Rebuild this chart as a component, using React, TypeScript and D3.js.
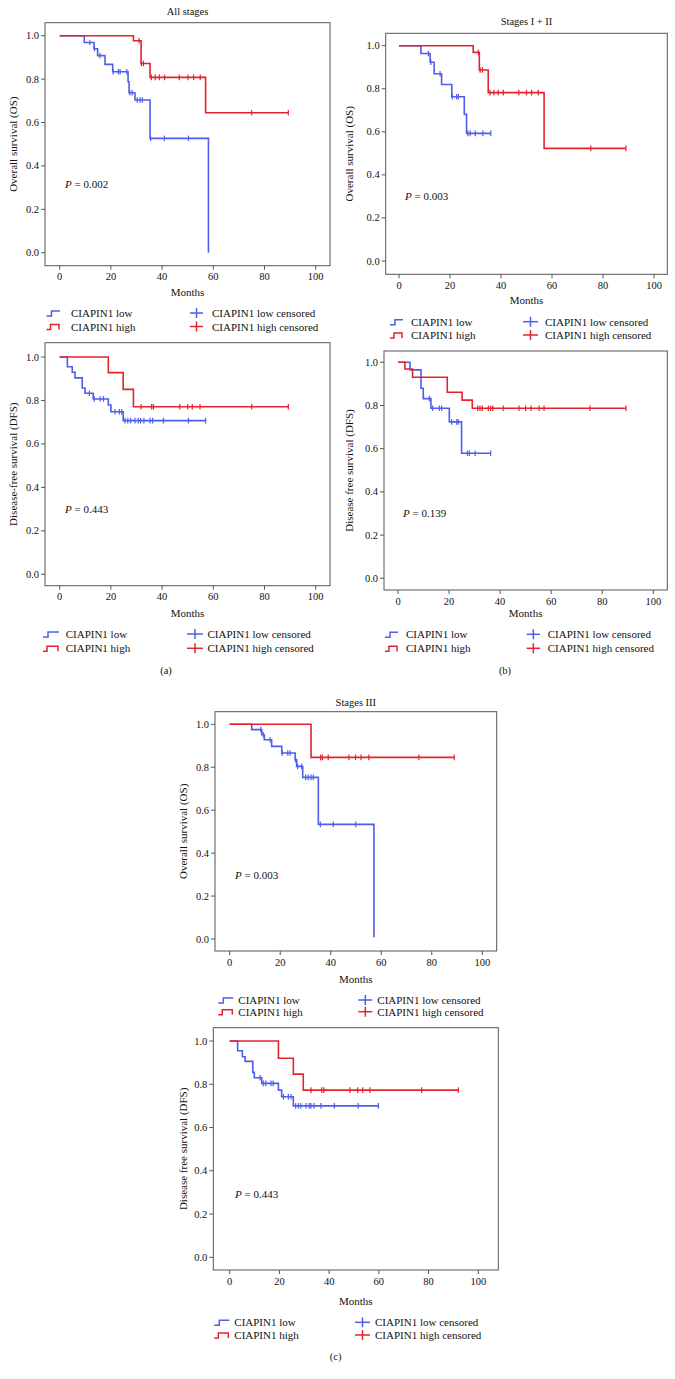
import React from "react"
import * as d3 from "d3"

const BLUE = "#4d5fe8"
const RED = "#e4232d"
const FRAME = "#555"
const FONT = "'Liberation Serif', 'Times New Roman', serif"

const X_TICKS = [0, 20, 40, 60, 80, 100]
const Y_TICKS = [0, 0.2, 0.4, 0.6, 0.8, 1.0]

// (a) all stages, overall survival
const aOsLowT = [9.6, 13.4, 14.8, 17.7, 20.7, 26.7, 27.1, 29.4, 35.3, 58.1]
const aOsLowS = [0.969, 0.94, 0.908, 0.868, 0.834, 0.788, 0.737, 0.704, 0.527, 0]
const aOsLowC = [11.8, 13.6, 15.7, 20.9, 22.9, 23.6, 26.2, 27.4, 28.3, 30.3, 31.4, 32.3, 35.5, 40.9, 50.3]
const aOsHighT = [28.8, 31.8, 35.3, 57.0]
const aOsHighS = [0.977, 0.872, 0.808, 0.645]
const aOsHighC = [31.0, 31.9, 32.7, 35.8, 37.3, 38.9, 41.0, 46.7, 50.1, 52.3, 54.9, 75.0, 89.3]

// (a) all stages, disease-free survival
const aDfsLowT = [3.0, 4.9, 6.0, 8.8, 9.9, 13.1, 19.0, 20.0, 24.8]
const aDfsLowS = [0.955, 0.93, 0.904, 0.857, 0.833, 0.807, 0.779, 0.748, 0.707]
const aDfsLowC = [11.6, 13.5, 15.8, 17.1, 21.6, 23.3, 24.2, 25.5, 26.6, 27.7, 29.4, 30.7, 31.6, 32.9, 35.3, 36.3, 40.5, 50.3, 57.0]
const aDfsHighT = [19.0, 24.8, 28.8]
const aDfsHighS = [0.928, 0.851, 0.771]
const aDfsHighC = [31.8, 35.9, 36.6, 46.9, 50.0, 51.8, 54.8, 75.0, 89.3]

// (b) stages I + II, overall survival
const bOsLowT = [8.6, 12.2, 13.8, 16.7, 20.7, 25.6, 26.5]
const bOsLowS = [0.964, 0.923, 0.87, 0.82, 0.763, 0.681, 0.593]
const bOsLowC = [11.5, 12.5, 16.1, 20.9, 22.6, 23.3, 27.0, 27.9, 29.9, 32.9, 36.0]
const bOsHighT = [29.1, 31.5, 35.0, 56.9]
const bOsHighS = [0.969, 0.887, 0.782, 0.523]
const bOsHighC = [31.1, 31.8, 32.7, 35.7, 37.2, 38.9, 40.9, 47.0, 50.0, 52.0, 54.6, 75.2, 89.0]

// (b) stages I + II, disease free survival
const bDfsLowT = [4.7, 9.0, 9.9, 12.9, 20.1, 24.9]
const bDfsLowS = [0.965, 0.88, 0.832, 0.787, 0.724, 0.579]
const bDfsLowC = [12.3, 13.6, 16.2, 17.1, 21.0, 23.0, 23.6, 27.2, 28.0, 30.2, 36.3]
const bDfsHighT = [2.7, 5.7, 19.3, 25.1, 29.1]
const bDfsHighS = [0.969, 0.931, 0.861, 0.825, 0.787]
const bDfsHighC = [31.2, 32.1, 33.0, 35.4, 36.3, 37.1, 41.2, 47.4, 50.0, 52.1, 55.3, 57.2, 75.2, 89.3]

// (c) stage III, overall survival
const cOsLowT = [8.7, 12.7, 13.7, 16.6, 20.6, 25.9, 26.5, 28.9, 35.1, 57.1]
const cOsLowS = [0.975, 0.951, 0.928, 0.897, 0.866, 0.835, 0.804, 0.753, 0.534, 0.008]
const cOsLowC = [12.3, 13.3, 16.0, 20.8, 23.0, 23.9, 26.1, 26.9, 28.5, 30.1, 31.1, 32.2, 33.1, 35.9, 41.0, 49.9]
const cOsHighT = [32.2]
const cOsHighS = [0.846]
const cOsHighC = [36.0, 36.7, 39.0, 47.2, 49.8, 52.0, 55.1, 74.9, 88.9]

// (c) stage III, disease free survival
const cDfsLowT = [3.2, 5.1, 6.2, 9.3, 9.9, 12.9, 19.6, 20.9, 25.6]
const cDfsLowS = [0.955, 0.927, 0.906, 0.855, 0.83, 0.804, 0.773, 0.742, 0.7]
const cDfsLowC = [12.2, 13.5, 14.5, 16.6, 17.5, 21.6, 23.6, 24.7, 26.5, 27.6, 28.6, 30.7, 32.0, 32.7, 33.9, 36.7, 42.1, 51.7, 59.8]
const cDfsHighT = [19.6, 25.6, 29.6]
const cDfsHighS = [0.92, 0.847, 0.773]
const cDfsHighC = [32.7, 37.0, 37.9, 48.4, 51.5, 53.5, 56.4, 77.2, 92.0]

type Series = { t: number[]; s: number[]; c: number[] }

type PanelCfg = {
    frame: [number, number, number, number]
    x0: number
    x100: number
    yZero: number
    yOne: number
    title?: string
    titleY?: number
    yLabel: string
    yLabelX: number
    pValue: string
    pX: number
    pY: number
    monthsY: number
    legY: [number, number]
    leg: [number, number, number, number, number, number]
    low: Series
    high: Series
}

const PANELS: PanelCfg[] = [
    {
        frame: [45, 22.7, 330, 265.7], x0: 59.7, x100: 315.7, yZero: 252.7, yOne: 35.7,
        title: "All stages", titleY: 11.7,
        yLabel: "Overall survival (OS)", yLabelX: 13.3,
        pValue: "0.002", pX: 65, pY: 184, monthsY: 292,
        legY: [313, 326.5], leg: [46.5, 60, 71, 190, 203, 212],
        low: { t: aOsLowT, s: aOsLowS, c: aOsLowC },
        high: { t: aOsHighT, s: aOsHighS, c: aOsHighC },
    },
    {
        frame: [385.7, 33.3, 667.3, 274.3], x0: 399, x100: 654, yZero: 261, yOne: 45.7,
        title: "Stages I + II", titleY: 21.7,
        yLabel: "Overall survival (OS)", yLabelX: 349,
        pValue: "0.003", pX: 405, pY: 196, monthsY: 300,
        legY: [321.7, 335], leg: [390, 403, 411, 523, 538, 545],
        low: { t: bOsLowT, s: bOsLowS, c: bOsLowC },
        high: { t: bOsHighT, s: bOsHighS, c: bOsHighC },
    },
    {
        frame: [45, 342.7, 330, 585.7], x0: 59.7, x100: 315.7, yZero: 574.3, yOne: 357,
        yLabel: "Disease-free survival (DFS)", yLabelX: 13.3,
        pValue: "0.443", pX: 65, pY: 509, monthsY: 612.7,
        legY: [634, 648.3], leg: [43, 59, 65.7, 187, 203, 207.5],
        low: { t: aDfsLowT, s: aDfsLowS, c: aDfsLowC },
        high: { t: aDfsHighT, s: aDfsHighS, c: aDfsHighC },
    },
    {
        frame: [384, 351, 667.3, 590], x0: 398, x100: 653.3, yZero: 578.3, yOne: 362.3,
        yLabel: "Disease free survival (DFS)", yLabelX: 349,
        pValue: "0.139", pX: 403, pY: 512.7, monthsY: 612.7,
        legY: [634.3, 648.3], leg: [385, 398, 406, 526.7, 540, 547.7],
        low: { t: bDfsLowT, s: bDfsLowS, c: bDfsLowC },
        high: { t: bDfsHighT, s: bDfsHighS, c: bDfsHighC },
    },
    {
        frame: [215, 711.7, 496.7, 951], x0: 229.7, x100: 482.3, yZero: 939, yOne: 724.3,
        title: "Stages III", titleY: 702.7,
        yLabel: "Overall survival (OS)", yLabelX: 183.3,
        pValue: "0.003", pX: 235, pY: 875, monthsY: 979,
        legY: [1000, 1011.7], leg: [218.3, 233.3, 238.3, 358.3, 372.3, 377.3],
        low: { t: cOsLowT, s: cOsLowS, c: cOsLowC },
        high: { t: cOsHighT, s: cOsHighS, c: cOsHighC },
    },
    {
        frame: [213.3, 1027.7, 498.3, 1270], x0: 229.7, x100: 478.3, yZero: 1257.3, yOne: 1041,
        yLabel: "Disease free survival (DFS)", yLabelX: 182.7,
        pValue: "0.443", pX: 235, pY: 1194, monthsY: 1301,
        legY: [1322.3, 1335], leg: [214.3, 229.3, 234.3, 355, 370, 375],
        low: { t: cDfsLowT, s: cDfsLowS, c: cDfsLowC },
        high: { t: cDfsHighT, s: cDfsHighS, c: cDfsHighC },
    },
]

const stepAt = (ser: Series, time: number) => {
    let v = 1
    ser.t.forEach((t, i) => {
        if (t <= time) v = ser.s[i]
    })
    return v
}

const Curve = ({ ser, color, x, y }: { ser: Series; color: string; x: d3.ScaleLinear<number, number>; y: d3.ScaleLinear<number, number> }) => {
    const end = Math.max(ser.t[ser.t.length - 1], ser.c.length ? ser.c[ser.c.length - 1] : 0)
    const pts: [number, number][] = [[0, 1]]
    ser.t.forEach((t, i) => pts.push([t, ser.s[i]]))
    if (end > ser.t[ser.t.length - 1]) pts.push([end, ser.s[ser.s.length - 1]])
    const line = d3
        .line<[number, number]>()
        .x((d) => x(d[0]))
        .y((d) => y(d[1]))
        .curve(d3.curveStepAfter)
    return (
        <g>
            <path d={line(pts) || ""} fill="none" stroke={color} strokeWidth={1.6} />
            {ser.c.map((c, i) => {
                const cy = y(stepAt(ser, c))
                return <line key={i} x1={x(c)} x2={x(c)} y1={cy - 2.8} y2={cy + 2.8} stroke={color} strokeWidth={1.2} />
            })}
        </g>
    )
}

const Panel = ({ p }: { p: PanelCfg }) => {
    const [l, t, r, b] = p.frame
    const x = d3.scaleLinear().domain([0, 100]).range([p.x0, p.x100])
    const y = d3.scaleLinear().domain([0, 1]).range([p.yZero, p.yOne])
    const cx = (l + r) / 2
    const cy = (t + b) / 2
    const [s1a, s1b, t1, s2a, s2b, t2] = p.leg
    const [ly1, ly2] = p.legY
    return (
        <g fontFamily={FONT} fill="#111">
            {p.title && (
                <text x={cx} y={p.titleY} textAnchor="middle" dominantBaseline="central" fontSize={10.5}>
                    {p.title}
                </text>
            )}
            <rect x={l} y={t} width={r - l} height={b - t} fill="none" stroke={FRAME} strokeWidth={1} />
            {Y_TICKS.map((v) => (
                <g key={v}>
                    <line x1={l - 4} x2={l} y1={y(v)} y2={y(v)} stroke={FRAME} />
                    <text x={l - 6} y={y(v)} textAnchor="end" dominantBaseline="central" fontSize={10.5}>
                        {v.toFixed(1)}
                    </text>
                </g>
            ))}
            {X_TICKS.map((v) => (
                <g key={v}>
                    <line x1={x(v)} x2={x(v)} y1={b} y2={b + 4} stroke={FRAME} />
                    <text x={x(v)} y={b + 11} textAnchor="middle" dominantBaseline="central" fontSize={10.5}>
                        {v}
                    </text>
                </g>
            ))}
            <text x={cx} y={p.monthsY} textAnchor="middle" dominantBaseline="central" fontSize={11}>
                Months
            </text>
            <text
                transform={`translate(${p.yLabelX},${cy}) rotate(-90)`}
                textAnchor="middle"
                dominantBaseline="central"
                fontSize={11}
            >
                {p.yLabel}
            </text>
            <text x={p.pX} y={p.pY} dominantBaseline="central" fontSize={11}>
                <tspan fontStyle="italic">P</tspan> = {p.pValue}
            </text>
            <Curve ser={p.low} color={BLUE} x={x} y={y} />
            <Curve ser={p.high} color={RED} x={x} y={y} />
            {/* legend */}
            <path d={`M${s1a},${ly1 + 3}H${s1a + 5}V${ly1 - 2}H${s1b}`} fill="none" stroke={BLUE} strokeWidth={1.5} />
            <text x={t1} y={ly1} dominantBaseline="central" fontSize={11}>CIAPIN1 low</text>
            <path d={`M${s1a},${ly2 + 3}H${s1a + 4}V${ly2 - 2}H${s1b - 1}V${ly2 + 3}`} fill="none" stroke={RED} strokeWidth={1.5} />
            <text x={t1} y={ly2} dominantBaseline="central" fontSize={11}>CIAPIN1 high</text>
            <line x1={s2a} x2={s2b} y1={ly1} y2={ly1} stroke={BLUE} strokeWidth={1.5} />
            <line x1={(s2a + s2b) / 2} x2={(s2a + s2b) / 2} y1={ly1 - 5} y2={ly1 + 5} stroke={BLUE} strokeWidth={1.5} />
            <text x={t2} y={ly1} dominantBaseline="central" fontSize={11}>CIAPIN1 low censored</text>
            <line x1={s2a} x2={s2b} y1={ly2} y2={ly2} stroke={RED} strokeWidth={1.5} />
            <line x1={(s2a + s2b) / 2} x2={(s2a + s2b) / 2} y1={ly2 - 5} y2={ly2 + 5} stroke={RED} strokeWidth={1.5} />
            <text x={t2} y={ly2} dominantBaseline="central" fontSize={11}>CIAPIN1 high censored</text>
        </g>
    )
}

export default function App() {
    return (
        <div style={{ position: "absolute", left: 0, top: 0, background: "#fff" }}>
            <svg width={675} height={1379} style={{ display: "block" }}>
                <rect width={675} height={1379} fill="#fff" />
                {PANELS.map((p, i) => (
                    <Panel key={i} p={p} />
                ))}
                <g fontFamily={FONT} fontSize={10.5} fill="#111" textAnchor="middle" dominantBaseline="central">
                    <text x={166} y={670}>(a)</text>
                    <text x={505} y={670}>(b)</text>
                    <text x={335.7} y={1356.7}>(c)</text>
                </g>
            </svg>
        </div>
    )
}
